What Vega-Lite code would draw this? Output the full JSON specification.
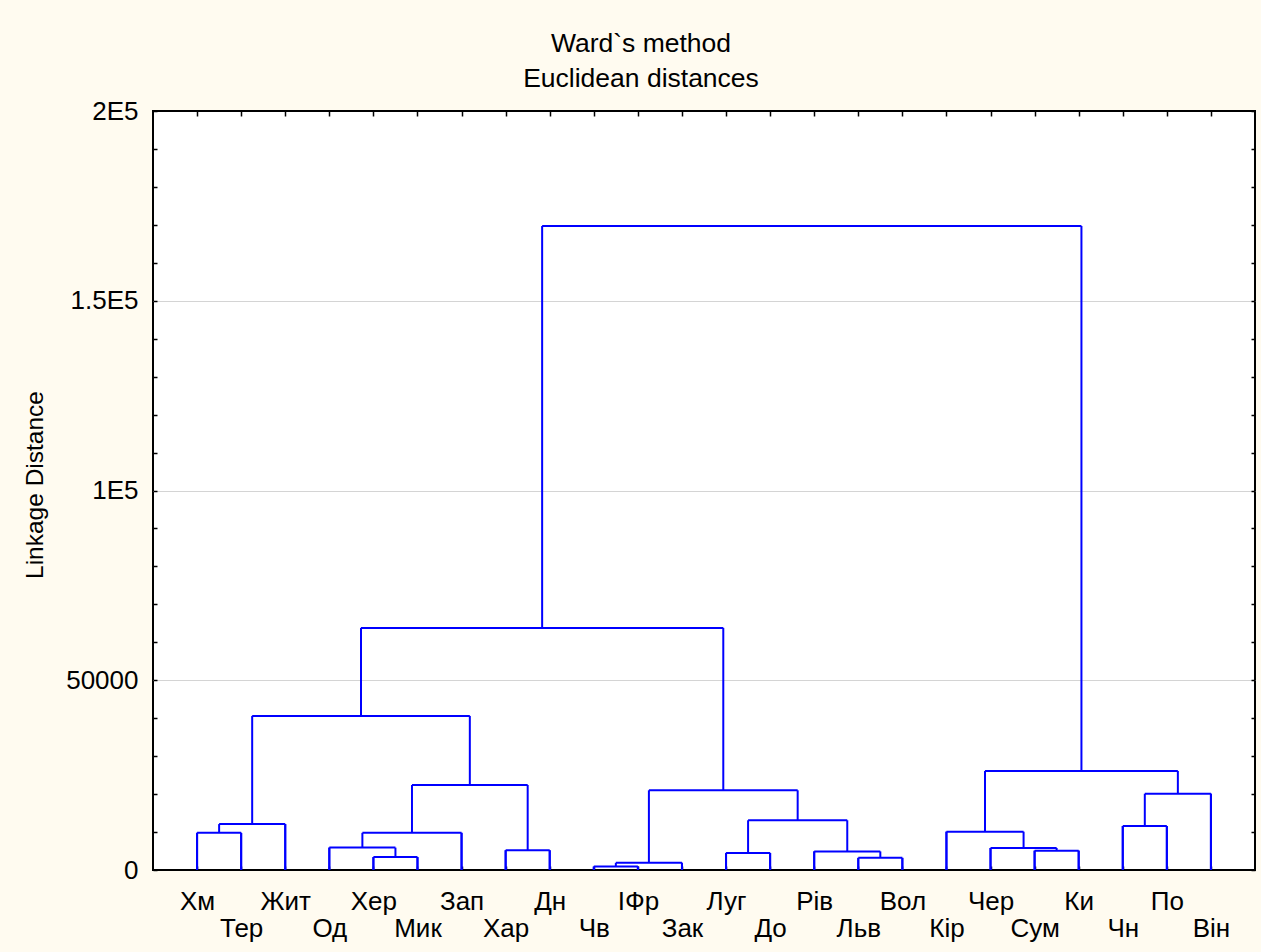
{
  "$schema": "https://vega.github.io/schema/vega-lite/v6.json",
  "autosize": "none",
  "width": 1102,
  "height": 759,
  "padding": {"left": 153, "top": 111, "right": 6, "bottom": 82},
  "background": "#FFFBF0",
  "title": {
    "text": ["Ward`s method", "Euclidean distances"],
    "fontSize": 26.5,
    "font": "Liberation Sans",
    "fontWeight": "normal",
    "color": "black",
    "anchor": "middle",
    "frame": "group",
    "dx": -63,
    "lineHeight": 34.5,
    "offset": 6
  },
  "config": {
    "font": "Liberation Sans",
    "view": {"stroke": "black", "strokeWidth": 2, "fill": "white"},
    "axis": {
      "labelFont": "Liberation Sans",
      "titleFont": "Liberation Sans",
      "labelColor": "black",
      "titleColor": "black",
      "tickColor": "black",
      "tickWidth": 1.5,
      "domain": false,
      "labelOverlap": false,
      "labelBound": false,
      "labelFlush": false
    }
  },
  "resolve": {
    "scale": {"x": "independent"},
    "axis": {"x": "independent", "y": "independent"}
  },
  "layer": [
    {
      "data": {
        "values": [
          {"leaf": "Хм", "parent": 9800},
          {"leaf": "Тер", "parent": 9800},
          {"leaf": "Жит", "parent": 12100},
          {"leaf": "Од", "parent": 5900},
          {"leaf": "Хер", "parent": 3400},
          {"leaf": "Мик", "parent": 3400},
          {"leaf": "Зап", "parent": 9800},
          {"leaf": "Хар", "parent": 5200},
          {"leaf": "Дн", "parent": 5200},
          {"leaf": "Чв", "parent": 900},
          {"leaf": "ІФр", "parent": 900},
          {"leaf": "Зак", "parent": 1900},
          {"leaf": "Луг", "parent": 4500},
          {"leaf": "До", "parent": 4500},
          {"leaf": "Рів", "parent": 4900},
          {"leaf": "Льв", "parent": 3200},
          {"leaf": "Вол", "parent": 3200},
          {"leaf": "Кір", "parent": 10100},
          {"leaf": "Чер", "parent": 5800},
          {"leaf": "Сум", "parent": 5100},
          {"leaf": "Ки", "parent": 5100},
          {"leaf": "Чн", "parent": 11600},
          {"leaf": "По", "parent": 11600},
          {"leaf": "Він", "parent": 20100}
        ]
      },
      "mark": {"type": "rule", "color": "#0000ff", "strokeWidth": 2},
      "encoding": {
        "x": {
          "field": "leaf",
          "type": "ordinal",
          "sort": null,
          "scale": {"type": "point", "padding": 1},
          "axis": {
            "orient": "bottom",
            "title": null,
            "labelAngle": 0,
            "labelFontSize": 26,
            "labelBaseline": "alphabetic",
            "labelLineHeight": 27.4,
            "labelPadding": 43,
            "tickSize": -4,
            "grid": false,
            "labelExpr": "round(datum.index * 23) % 2 ? ['', datum.label] : datum.label"
          }
        },
        "y": {
          "field": "parent",
          "type": "quantitative",
          "scale": {"domain": [0, 200000], "nice": false},
          "axis": {
            "orient": "left",
            "title": "Linkage Distance",
            "titleFontSize": 24.5,
            "titleFontWeight": "normal",
            "titleX": -111,
            "titleY": 373.5,
            "titleBaseline": "alphabetic",
            "titleAngle": -90,
            "titleAlign": "center",
            "values": [0, 10000, 20000, 30000, 40000, 50000, 60000, 70000, 80000, 90000, 100000, 110000, 120000, 130000, 140000, 150000, 160000, 170000, 180000, 190000, 200000],
            "labelExpr": "datum.value == 0 ? '0' : datum.value == 50000 ? '50000' : datum.value % 50000 == 0 ? (datum.value / 100000) + 'E5' : ''",
            "labelFontSize": 26,
            "labelPadding": 19,
            "tickSize": -4,
            "grid": true,
            "gridColor": "#d4d4d4",
            "gridWidth": 1,
            "gridOpacity": {"condition": {"test": "datum.value % 50000 == 0 && datum.value > 0 && datum.value < 200000", "value": 1}, "value": 0}
          }
        },
        "y2": {"datum": 0}
      }
    },
    {
      "data": {
        "values": [
          {"node": "A", "xl": 0, "xr": 1, "hl": 0, "hr": 0, "h": 9800},
          {"node": "B", "xl": 0.5, "xr": 2, "hl": 9800, "hr": 0, "h": 12100},
          {"node": "C", "xl": 4, "xr": 5, "hl": 0, "hr": 0, "h": 3400},
          {"node": "D", "xl": 3, "xr": 4.5, "hl": 0, "hr": 3400, "h": 5900},
          {"node": "E", "xl": 3.75, "xr": 6, "hl": 5900, "hr": 0, "h": 9800},
          {"node": "F", "xl": 7, "xr": 8, "hl": 0, "hr": 0, "h": 5200},
          {"node": "G", "xl": 4.875, "xr": 7.5, "hl": 9800, "hr": 5200, "h": 22400},
          {"node": "H", "xl": 1.25, "xr": 6.1875, "hl": 12100, "hr": 22400, "h": 40600},
          {"node": "I", "xl": 9, "xr": 10, "hl": 0, "hr": 0, "h": 900},
          {"node": "J", "xl": 9.5, "xr": 11, "hl": 900, "hr": 0, "h": 1900},
          {"node": "K", "xl": 12, "xr": 13, "hl": 0, "hr": 0, "h": 4500},
          {"node": "L", "xl": 15, "xr": 16, "hl": 0, "hr": 0, "h": 3200},
          {"node": "M", "xl": 14, "xr": 15.5, "hl": 0, "hr": 3200, "h": 4900},
          {"node": "N", "xl": 12.5, "xr": 14.75, "hl": 4500, "hr": 4900, "h": 13100},
          {"node": "O", "xl": 10.25, "xr": 13.625, "hl": 1900, "hr": 13100, "h": 21000},
          {"node": "P", "xl": 3.71875, "xr": 11.9375, "hl": 40600, "hr": 21000, "h": 63800},
          {"node": "Q", "xl": 19, "xr": 20, "hl": 0, "hr": 0, "h": 5100},
          {"node": "R", "xl": 18, "xr": 19.5, "hl": 0, "hr": 5100, "h": 5800},
          {"node": "S", "xl": 17, "xr": 18.75, "hl": 0, "hr": 5800, "h": 10100},
          {"node": "T", "xl": 21, "xr": 22, "hl": 0, "hr": 0, "h": 11600},
          {"node": "U", "xl": 21.5, "xr": 23, "hl": 11600, "hr": 0, "h": 20100},
          {"node": "V", "xl": 17.875, "xr": 22.25, "hl": 10100, "hr": 20100, "h": 26100},
          {"node": "W", "xl": 7.828125, "xr": 20.0625, "hl": 63800, "hr": 26100, "h": 169700}
        ]
      },
      "layer": [
        {
          "mark": {"type": "rule", "color": "#0000ff", "strokeWidth": 2},
          "encoding": {
            "x": {
              "field": "xl", "type": "quantitative",
              "scale": {"domain": [-1, 24], "nice": false, "zero": false},
              "axis": {"orient": "top", "title": null, "labels": false, "grid": false, "tickSize": -5, "values": [0,1,2,3,4,5,6,7,8,9,10,11,12,13,14,15,16,17,18,19,20,21,22,23]}
            },
            "y": {
              "field": "hl", "type": "quantitative",
              "scale": {"domain": [0, 200000], "nice": false},
              "axis": {"orient": "right", "title": null, "labels": false, "grid": false, "tickSize": -4, "values": [0, 10000, 20000, 30000, 40000, 50000, 60000, 70000, 80000, 90000, 100000, 110000, 120000, 130000, 140000, 150000, 160000, 170000, 180000, 190000, 200000]}
            },
            "y2": {"field": "h"}
          }
        },
        {
          "mark": {"type": "rule", "color": "#0000ff", "strokeWidth": 2},
          "encoding": {
            "x": {
              "field": "xr", "type": "quantitative",
              "scale": {"domain": [-1, 24], "nice": false, "zero": false},
              "axis": {"orient": "top", "title": null, "labels": false, "grid": false, "tickSize": -5, "values": [0,1,2,3,4,5,6,7,8,9,10,11,12,13,14,15,16,17,18,19,20,21,22,23]}
            },
            "y": {
              "field": "hr", "type": "quantitative",
              "scale": {"domain": [0, 200000], "nice": false},
              "axis": {"orient": "right", "title": null, "labels": false, "grid": false, "tickSize": -4, "values": [0, 10000, 20000, 30000, 40000, 50000, 60000, 70000, 80000, 90000, 100000, 110000, 120000, 130000, 140000, 150000, 160000, 170000, 180000, 190000, 200000]}
            },
            "y2": {"field": "h"}
          }
        },
        {
          "mark": {"type": "rule", "color": "#0000ff", "strokeWidth": 2},
          "encoding": {
            "x": {
              "field": "xl", "type": "quantitative",
              "scale": {"domain": [-1, 24], "nice": false, "zero": false},
              "axis": {"orient": "top", "title": null, "labels": false, "grid": false, "tickSize": -5, "values": [0,1,2,3,4,5,6,7,8,9,10,11,12,13,14,15,16,17,18,19,20,21,22,23]}
            },
            "x2": {"field": "xr"},
            "y": {
              "field": "h", "type": "quantitative",
              "scale": {"domain": [0, 200000], "nice": false},
              "axis": {"orient": "right", "title": null, "labels": false, "grid": false, "tickSize": -4, "values": [0, 10000, 20000, 30000, 40000, 50000, 60000, 70000, 80000, 90000, 100000, 110000, 120000, 130000, 140000, 150000, 160000, 170000, 180000, 190000, 200000]}
            }
          }
        }
      ]
    }
  ]
}
